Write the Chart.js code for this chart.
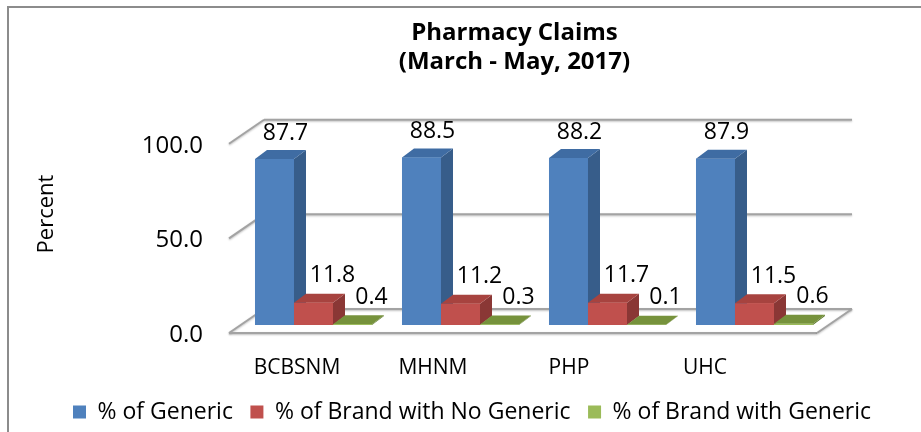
<!DOCTYPE html>
<html>
<head>
<meta charset="utf-8">
<script src="https://cdn.jsdelivr.net/npm/chart.js@4"></script>
<style>
  html, body { margin: 0; padding: 0; background: #fff; }
  #wrap { width: 921px; height: 432px; position: relative; }
</style>
</head>
<body>
<div id="wrap"><canvas id="claims"></canvas></div>
<script>
const categories = ['BCBSNM', 'MHNM', 'PHP', 'UHC']
const seriesNames = ['% of Generic', '% of Brand with No Generic', '% of Brand with Generic']
const genericPct = [87.7, 88.5, 88.2, 87.9]
const brandNoGenericPct = [11.8, 11.2, 11.7, 11.5]
const brandWithGenericPct = [0.4, 0.3, 0.1, 0.6]
const yTicks = [0, 50, 100]

// colours: front, top, side
const fronts = ['#4f81bd', '#c0504d', '#9bbb59']
const tops = ['#3f6ca3', '#a7433f', '#76923c']
const sides = ['#375d8a', '#8a3735', '#5f7a2e']

// fake 3d offsets (px)
const FRONT = { x: -11, y: 8 }
const BACK = { x: 24, y: -16 }
const BAR = { x: 12, y: -9 }
const LABEL_DX = [11, 19, 19]
const LABEL_DY = [-26, -27, -27]

Chart.defaults.font.family = '"Open Sans", sans-serif'
Chart.defaults.color = '#000'

function line(ctx, x1, y1, x2, y2) {
  ctx.beginPath()
  ctx.moveTo(x1, y1)
  ctx.lineTo(x2, y2)
  ctx.stroke()
}

function poly(ctx, pts, color) {
  ctx.beginPath()
  ctx.moveTo(pts[0][0], pts[0][1])
  for (let k = 1; k < pts.length; k++) ctx.lineTo(pts[k][0], pts[k][1])
  ctx.closePath()
  ctx.fillStyle = color
  ctx.fill()
}

const depth3d = {
  id: 'depth3d',
  beforeDraw(chart) {
    const ctx = chart.ctx
    ctx.save()
    ctx.strokeStyle = '#8c8c8c'
    ctx.lineWidth = 2
    line(ctx, 8, 7, 8, 432)
    line(ctx, 7, 7, 921, 7)
    ctx.restore()
  },
  beforeDatasetsDraw(chart) {
    const ctx = chart.ctx
    const { left, right } = chart.chartArea
    const ys = chart.scales.y
    ctx.save()
    ctx.strokeStyle = '#a3a3a3'
    ctx.lineWidth = 2
    ctx.shadowColor = 'rgba(0,0,0,0.25)'
    ctx.shadowBlur = 2
    ctx.shadowOffsetY = 1
    yTicks.forEach(v => {
      const py = ys.getPixelForValue(v)
      line(ctx, left + FRONT.x, py + FRONT.y, left + BACK.x, py + BACK.y)
      line(ctx, left + BACK.x, py + BACK.y, right + BACK.x, py + BACK.y)
    })
    const p0 = ys.getPixelForValue(0)
    line(ctx, left + FRONT.x, p0 + FRONT.y, right + FRONT.x, p0 + FRONT.y)
    line(ctx, right + FRONT.x, p0 + FRONT.y, right + BACK.x, p0 + BACK.y)
    ctx.restore()
  },
  afterDatasetsDraw(chart) {
    const ctx = chart.ctx
    const n = chart.data.datasets.length
    ctx.save()
    for (let i = 0; i < categories.length; i++) {
      for (let d = 0; d < n; d++) {
        const el = chart.getDatasetMeta(d).data[i]
        const { x, y, base, width } = el.getProps(['x', 'y', 'base', 'width'], true)
        const l = x - width / 2
        const r = x + width / 2
        poly(ctx, [[r, y], [r + BAR.x, y + BAR.y], [r + BAR.x, base + BAR.y], [r, base]], sides[d])
        poly(ctx, [[l, y], [l + BAR.x, y + BAR.y], [r + BAR.x, y + BAR.y], [r, y]], tops[d])
        el.draw(ctx)
      }
    }
    // value labels
    ctx.font = '23px "Open Sans"'
    ctx.fillStyle = '#000'
    ctx.textAlign = 'center'
    ctx.textBaseline = 'middle'
    for (let d = 0; d < n; d++) {
      const ds = chart.data.datasets[d]
      chart.getDatasetMeta(d).data.forEach((el, i) => {
        ctx.fillText(ds.data[i].toFixed(1), el.x + LABEL_DX[d], el.y + LABEL_DY[d])
      })
    }
    ctx.restore()
  },
  afterDraw(chart) {
    const ctx = chart.ctx
    const { left } = chart.chartArea
    const xs = chart.scales.x
    ctx.save()
    ctx.fillStyle = '#000'
    ctx.textAlign = 'center'
    ctx.textBaseline = 'middle'
    ctx.font = '21px "Open Sans"'
    categories.forEach((c, i) => {
      const px = xs.getPixelForValue(i)
      ctx.fillText(c, left + FRONT.x + (px - left) * 0.925, 368.5)
    })
    ctx.translate(45, 214)
    ctx.rotate(-Math.PI / 2)
    ctx.font = '22px "Open Sans"'
    ctx.fillText('Percent', 0, 1.5)
    ctx.restore()
  }
}

const data = {
  labels: categories,
  datasets: [
    { label: seriesNames[0], data: genericPct, backgroundColor: fronts[0] },
    { label: seriesNames[1], data: brandNoGenericPct, backgroundColor: fronts[1] },
    { label: seriesNames[2], data: brandWithGenericPct, backgroundColor: fronts[2] },
  ]
}

new Chart(document.getElementById('claims'), {
  type: 'bar',
  data: data,
  plugins: [depth3d],
  options: {
    responsive: true,
    maintainAspectRatio: false,
    animation: false,
    layout: { padding: { left: 55.5, right: -52.5, top: 0, bottom: -1.5 } },
    datasets: { bar: { barPercentage: 1, categoryPercentage: 0.796, borderWidth: 0 } },
    scales: {
      x: {
        grid: { display: false, drawTicks: false },
        border: { display: false },
        ticks: { display: false },
        afterFit: s => { s.height = 58 }
      },
      y: {
        min: 0,
        max: 100,
        grid: { display: false, drawTicks: false },
        border: { display: false },
        ticks: {
          stepSize: 50,
          padding: 37,
          labelOffset: 10,
          font: { size: 24 },
          callback: v => v.toFixed(1)
        },
        afterFit: s => { s.width = 184.5 }
      },
      yR: {
        position: 'right',
        grid: { display: false, drawTicks: false },
        border: { display: false },
        ticks: { display: false },
        afterFit: s => { s.width = 145.5 }
      }
    },
    plugins: {
      tooltip: { enabled: false },
      title: {
        display: true,
        text: ['Pharmacy Claims', '(March - May, 2017)'],
        font: { size: 24, weight: 'bold', lineHeight: 1.23 },
        padding: { top: 17.95, bottom: 58.75 }
      },
      legend: {
        position: 'bottom',
        align: 'start',
        labels: {
          boxWidth: 13,
          boxHeight: 13,
          padding: 17.5,
          font: { size: 23 }
        }
      }
    }
  }
})
</script>
</body>
</html>
